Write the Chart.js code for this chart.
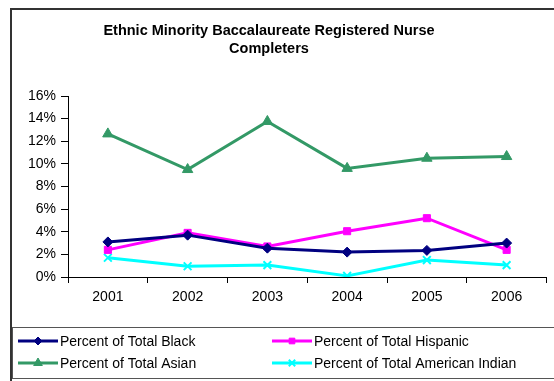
<!DOCTYPE html>
<html>
<head>
<meta charset="utf-8">
<script src="https://cdn.jsdelivr.net/npm/chart.js@4/dist/chart.umd.min.js"></script>
<style>
  body { margin: 0; background: #fff; }
  canvas { display: block; }
</style>
</head>
<body>
<canvas id="nurseChart" width="554" height="381"></canvas>
<script>
'use strict';

// data (percent)
const years = ['2001', '2002', '2003', '2004', '2005', '2006'];
const blackPct = [3.1, 3.7, 2.55, 2.2, 2.35, 3.0];
const hispanicPct = [2.4, 3.9, 2.7, 4.05, 5.2, 2.4];
const asianPct = [12.65, 9.5, 13.75, 9.6, 10.5, 10.65];
const indianPct = [1.7, 0.95, 1.05, 0.1, 1.5, 1.05];
const yTicks = [0, 2, 4, 6, 8, 10, 12, 14, 16];
const titleLines = ['Ethnic Minority Baccalaureate Registered Nurse', 'Completers'];

const fontName = 'Arial, "Liberation Sans", sans-serif';

function series(label, data, color, style, radius) {
  return {
    label: label,
    data: data,
    borderColor: color,
    backgroundColor: color,
    borderWidth: 3,
    pointStyle: style,
    pointRadius: radius,
    pointBorderWidth: style === 'crossRot' ? 2 : 1,
    pointBorderColor: color,
    pointBackgroundColor: color,
    tension: 0
  };
}

// frame, title and the boxed two-column legend
const framePlugin = {
  id: 'frame',
  beforeDraw(chart) {
    const ctx = chart.ctx;
    ctx.save();
    ctx.fillStyle = '#fff';
    ctx.fillRect(0, 0, chart.width, chart.height);
    ctx.strokeStyle = '#333';
    ctx.lineWidth = 2;
    ctx.strokeRect(11, 9, 600, 420);
    ctx.restore();
  },
  afterDraw(chart) {
    const ctx = chart.ctx;
    ctx.save();
    ctx.fillStyle = '#000';
    ctx.font = 'bold 14.5px ' + fontName;
    ctx.textAlign = 'center';
    ctx.textBaseline = 'alphabetic';
    ctx.fillText(titleLines[0], 269, 34.5);
    ctx.fillText(titleLines[1], 269, 53);

    ctx.strokeStyle = '#555';
    ctx.lineWidth = 1;
    ctx.strokeRect(12.5, 327.5, 600, 51);

    const spots = [[18, 341], [272, 341], [18, 363], [272, 363]];
    ctx.font = '14px ' + fontName;
    ctx.textAlign = 'left';
    ctx.textBaseline = 'middle';
    chart.data.datasets.forEach((ds, i) => {
      const x = spots[i][0];
      const y = spots[i][1];
      ctx.strokeStyle = ds.borderColor;
      ctx.lineWidth = 3;
      ctx.beginPath();
      ctx.moveTo(x, y);
      ctx.lineTo(x + 40, y);
      ctx.stroke();
      ctx.fillStyle = ds.borderColor;
      ctx.lineWidth = ds.pointBorderWidth;
      Chart.helpers.drawPoint(ctx, {
        pointStyle: ds.pointStyle,
        radius: ds.pointRadius - 1,
        rotation: 0,
        borderWidth: ds.pointBorderWidth
      }, x + 20, y);
      ctx.fillStyle = '#000';
      ctx.fillText(ds.label, x + 42, y + 1);
    });
    ctx.restore();
  }
};

const chartCtx = document.getElementById('nurseChart').getContext('2d');
const nurseChart = new Chart(chartCtx, {
  type: 'line',
  data: {
    labels: years,
    datasets: [
      series('Percent of Total Black', blackPct, '#000080', 'rectRot', 5),
      series('Percent of Total Hispanic', hispanicPct, '#ff00ff', 'rect', 5),
      series('Percent of Total Asian', asianPct, '#339966', 'triangle', 6),
      series('Percent of Total American Indian', indianPct, '#00ffff', 'crossRot', 5.5)
    ]
  },
  options: {
    responsive: false,
    animation: false,
    layout: { padding: { left: 0, right: 6, top: 96, bottom: 0 } },
    plugins: {
      legend: { display: false },
      title: { display: false },
      tooltip: { enabled: false }
    },
    scales: {
      x: {
        offset: true,
        grid: { offset: true, drawOnChartArea: false, tickLength: 6, color: '#000' },
        border: { color: '#000', width: 1 },
        ticks: { color: '#000', font: { family: fontName, size: 14 }, padding: 6 },
        afterFit(scale) { scale.height = 104; }
      },
      y: {
        min: yTicks[0],
        max: yTicks[yTicks.length - 1],
        afterBuildTicks(scale) { scale.ticks = yTicks.map(v => ({ value: v })); },
        grid: { drawOnChartArea: false, tickLength: 7, color: '#000' },
        border: { color: '#000', width: 1 },
        ticks: {
          color: '#000',
          font: { family: fontName, size: 14 },
          padding: 5,
          callback: v => v + '%'
        },
        afterFit(scale) { scale.width = 68; }
      }
    }
  },
  plugins: [framePlugin]
});
</script>
</body>
</html>
